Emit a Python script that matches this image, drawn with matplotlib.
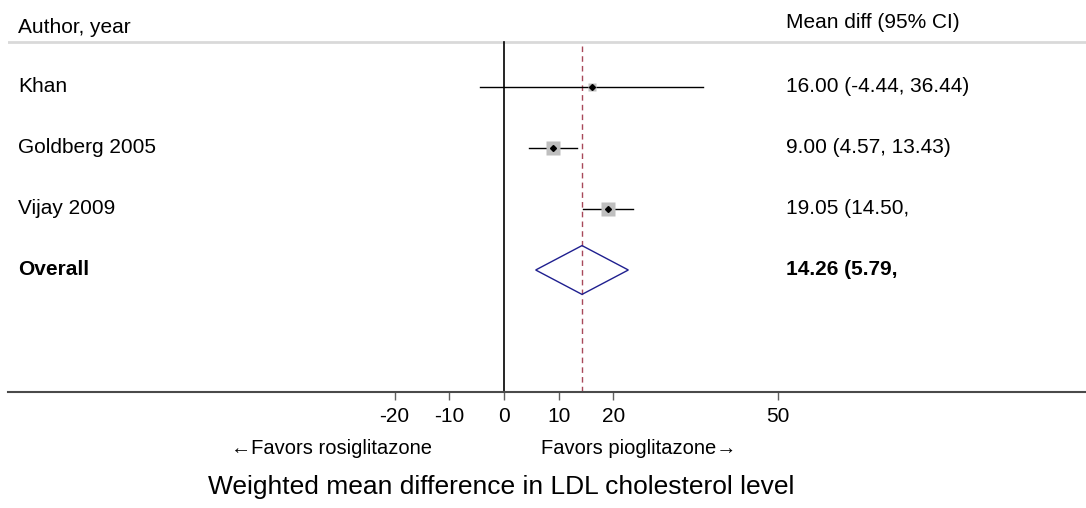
import numpy as np
import matplotlib
matplotlib.use("Agg")
import matplotlib.pyplot as plt
from matplotlib.patches import Polygon

plt.rcParams['font.family'] = ['Liberation Sans', 'DejaVu Sans']

# data
studies = ["Khan", "Goldberg 2005", "Vijay 2009"]
mean_diff = [16.00, 9.00, 19.05]
ci_low = [-4.44, 4.57, 14.50]
ci_high = [36.44, 13.43, 23.60]
weights = [11, 42, 47]
ci_text = ["16.00 (-4.44, 36.44)", "9.00 (4.57, 13.43)", "19.05 (14.50,"]
overall = 14.26
overall_low = 5.79
overall_high = 22.73
overall_text = "14.26 (5.79,"
ticks = [-20, -10, 0, 10, 20, 50]

# pixel -> data scale
px_per_unit = 5.47
x0_px = 504
W, H = 1086, 508
left_px = 8
xmin = (left_px - x0_px) / px_per_unit
xmax = (W - x0_px) / px_per_unit

fig = plt.figure(figsize=(W / 100, H / 100), dpi=100)
ax = fig.add_axes([left_px / W, (H - 392) / H, 1 - left_px / W, 392 / H])
ax.set_xlim(xmin, xmax)
ax.set_ylim(5, -1.426)

for s in ['top', 'right', 'left']:
    ax.spines[s].set_visible(False)
ax.spines['bottom'].set_color('#4a4a4a')
ax.spines['bottom'].set_linewidth(1.5)
ax.set_yticks([])
ax.set_xticks(ticks)
ax.set_xticklabels([str(t) for t in ticks], fontsize=15)
ax.tick_params(axis='x', length=6, width=1, color='#606060', pad=5)

fs = 15
# header line
ax.axhline(-0.74, color='#d9d9d9', lw=2)
# zero line and overall dashed line
ax.plot([0, 0], [-0.74, 5], color='black', lw=1.2)
ax.plot([overall, overall], [-0.68, 5], color='#a8485a', lw=1, ls=(0, (4, 3)))

rows = np.arange(len(studies))
for i in rows:
    ax.plot([ci_low[i], ci_high[i]], [i, i], color='black', lw=1, zorder=3)
    side = 1.55 * np.sqrt(weights[i])
    ax.plot(mean_diff[i], i, marker='s', ms=side, color='#bfbfbf', mec='none', zorder=4)
    ax.plot(mean_diff[i], i, marker='D', ms=3, color='black', zorder=5)

yo = len(studies)
diamond = Polygon([[overall_low, yo], [overall, yo - 0.4], [overall_high, yo], [overall, yo + 0.4]],
                  closed=True, fill=False, edgecolor='#1f1f8f', lw=1, zorder=3)
ax.add_patch(diamond)

# text columns
xl = (18 - x0_px) / px_per_unit
xr = (786 - x0_px) / px_per_unit
ax.text(xl, -0.98, "Author, year", fontsize=fs, va='center', ha='left')
ax.text(xr, -1.06, "Mean diff (95% CI)", fontsize=fs, va='center', ha='left')
for i in rows:
    ax.text(xl, i, studies[i], fontsize=fs, va='center', ha='left')
    ax.text(xr, i, ci_text[i], fontsize=fs, va='center', ha='left')
ax.text(xl, yo, "Overall", fontsize=fs, va='center', ha='left', fontweight='bold')
ax.text(xr, yo, overall_text, fontsize=fs, va='center', ha='left', fontweight='bold')

fig.text(231 / W, 1 - 448 / H, "\u2190Favors rosiglitazone", fontsize=14.5, va='center', ha='left')
fig.text(541 / W, 1 - 448 / H, "Favors pioglitazone\u2192", fontsize=14.5, va='center', ha='left')
fig.text(501 / W, 1 - 487 / H, "Weighted mean difference in LDL cholesterol level", fontsize=19,
         va='center', ha='center')

fig.savefig("out.png", dpi=100)
